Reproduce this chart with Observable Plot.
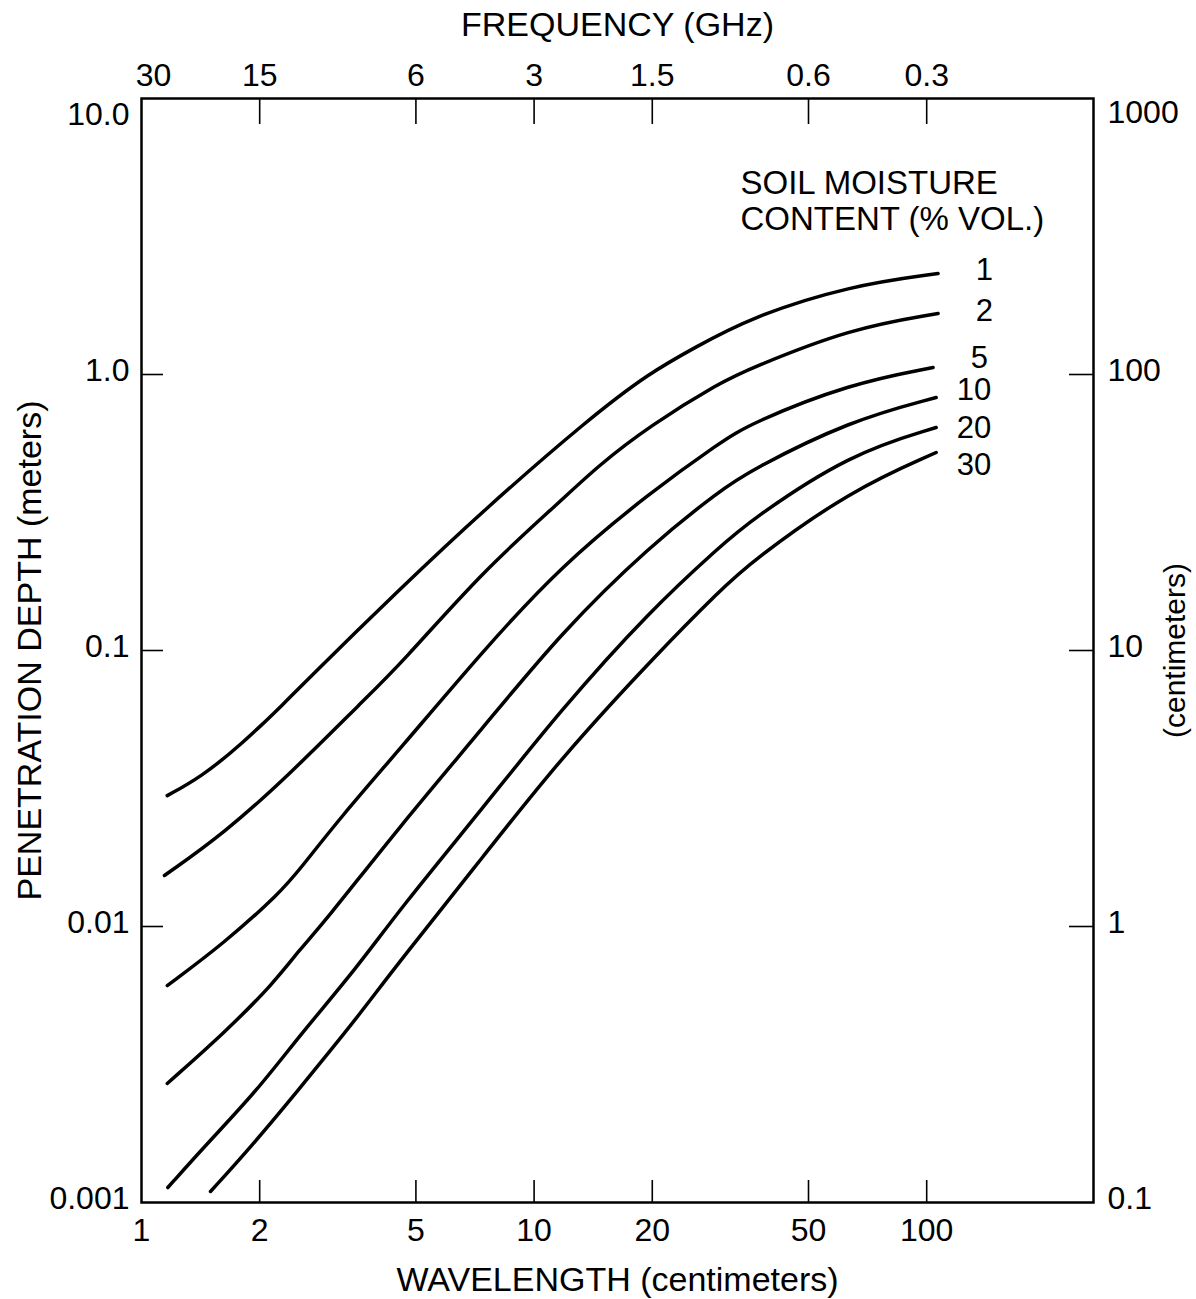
<!DOCTYPE html>
<html><head><meta charset="utf-8">
<script src="https://cdn.jsdelivr.net/npm/d3@7"></script>
<script src="https://cdn.jsdelivr.net/npm/@observablehq/plot@0.6"></script>
<style>html,body{margin:0;padding:0;background:#fff;} #chart svg{display:block}</style>
</head><body><div id="chart"></div>
<script>
// Soil moisture content (% vol.) of each curve
const moistureLevels = [1, 2, 5, 10, 20, 30];

// Wavelength (cm) and penetration depth (m)
const wavelength1 = [1.163, 1.413, 1.787, 2.349, 2.540, 4.564, 7.424, 13.90, 19.76, 25.42, 35.52, 63.83, 106.9];
const depth1      = [0.0298, 0.0347, 0.0453, 0.0659, 0.0741, 0.1677, 0.3216, 0.6987, 1.017, 1.242, 1.609, 2.101, 2.322];

const wavelength2 = [1.144, 1.620, 2.395, 3.674, 4.564, 7.424, 11.66, 14.48, 19.76, 29.79, 35.52, 63.83, 106.9];
const depth2      = [0.0153, 0.0217, 0.0358, 0.0659, 0.0890, 0.1949, 0.3466, 0.4642, 0.6534, 0.9355, 1.051, 1.468, 1.663];

const wavelength5 = [1.163, 1.620, 2.259, 2.540, 3.211, 4.564, 7.424, 11.66, 19.76, 29.79, 35.52, 63.83, 103.8];
const depth5      = [0.00611, 0.00868, 0.01328, 0.01622, 0.02483, 0.04415, 0.1000, 0.2015, 0.3737, 0.5671, 0.6644, 0.9276, 1.060];

const wavelength10 = [1.163, 1.620, 2.168, 2.540, 2.906, 4.564, 7.424, 11.66, 19.76, 29.79, 35.52, 63.83, 105.7];
const depth10      = [0.00270, 0.00410, 0.00621, 0.00832, 0.01025, 0.02322, 0.05260, 0.1153, 0.2401, 0.3800, 0.4489, 0.6813, 0.8254];

const wavelength20 = [1.167, 1.470, 1.971, 2.540, 3.541, 4.564, 7.424, 11.66, 19.76, 29.79, 35.52, 63.83, 105.7];
const depth20      = [0.001133, 0.001636, 0.002546, 0.004062, 0.007102, 0.01162, 0.02699, 0.06064, 0.1396, 0.2382, 0.2958, 0.5173, 0.6426];

const wavelength30 = [1.499, 1.895, 2.540, 3.028, 3.541, 4.564, 7.424, 11.66, 20.96, 29.79, 35.52, 63.83, 105.7];
const depth30      = [0.001096, 0.001582, 0.002610, 0.003554, 0.004681, 0.007528, 0.01793, 0.04062, 0.1000, 0.1650, 0.2084, 0.3800, 0.5217];

// Depth (m) at which each curve's label sits
const labelDepth = [2.38, 1.70, 1.15, 0.875, 0.637, 0.468];

// Axis ticks and labels
const wavelengthTicks  = [1, 2, 5, 10, 20, 50, 100];
const wavelengthLabels = ["1", "2", "5", "10", "20", "50", "100"];
const frequencyValues  = [30, 15, 6, 3, 1.5, 0.6, 0.3];       // GHz
const frequencyLabels  = ["30", "15", "6", "3", "1.5", "0.6", "0.3"];
const depthTicks  = [0.001, 0.01, 0.1, 1, 10];                 // meters
const depthLabels = ["0.001", "0.01", "0.1", "1.0", "10.0"];
const cmLabels    = ["0.1", "1", "10", "100", "1000"];          // centimeters

const wavelengthSets = [wavelength1, wavelength2, wavelength5, wavelength10, wavelength20, wavelength30];
const depthSets = [depth1, depth2, depth5, depth10, depth20, depth30];
const rows = moistureLevels.flatMap((m, i) =>
  wavelengthSets[i].map((w, j) => ({moisture: m, wavelength: w, depth: depthSets[i][j]})));
const curveEnds = wavelengthSets.map(a => a[a.length - 1]);

const freqPos = frequencyValues.map(f => 30 / f);
const fmtWl = d => wavelengthLabels[wavelengthTicks.indexOf(d)];
const fmtFreq = d => frequencyLabels[freqPos.indexOf(d)];
const fmtDepth = d => depthLabels[depthTicks.indexOf(d)];
const fmtCm = d => cmLabels[depthTicks.indexOf(d)];

const FS = 32, TFS = 34;

const chart = Plot.plot({
  width: 1196,
  height: 1299,
  marginTop: 98,
  marginBottom: 97,
  marginLeft: 141,
  marginRight: 103,
  style: {fontFamily: "'Liberation Sans', Arial, Helvetica, sans-serif", color: "black", background: "white"},
  x: {type: "log", domain: [1, 266], axis: null},
  y: {type: "log", domain: [0.001, 10], axis: null},
  marks: [
    Plot.frame({stroke: "black", strokeWidth: 2.5}),
    // bottom axis (wavelength)
    Plot.axisX({ticks: wavelengthTicks.slice(1), anchor: "bottom", tickSize: -22, fill: "none", strokeWidth: 1.6, label: null}),
    Plot.axisX({ticks: wavelengthTicks, anchor: "bottom", tickSize: 0, tickPadding: 16, tickFormat: fmtWl, fontSize: FS, label: null}),
    // top axis (frequency)
    Plot.axisX({ticks: freqPos.slice(1), anchor: "top", tickSize: -25, fill: "none", strokeWidth: 1.6, label: null}),
    Plot.axisX({ticks: freqPos.slice(0, 1), anchor: "top", tickSize: 0, tickPadding: 13, dx: 12, tickFormat: fmtFreq, fontSize: FS, label: null}),
    Plot.axisX({ticks: freqPos.slice(1), anchor: "top", tickSize: 0, tickPadding: 13, tickFormat: fmtFreq, fontSize: FS, label: null}),
    // left axis (meters)
    Plot.axisY({ticks: depthTicks.slice(1, 4), anchor: "left", tickSize: -22, fill: "none", strokeWidth: 1.6, label: null}),
    Plot.axisY({ticks: depthTicks.slice(0, 4), anchor: "left", tickSize: 0, tickPadding: 12, dy: -4, tickFormat: fmtDepth, fontSize: FS, label: null}),
    Plot.axisY({ticks: depthTicks.slice(4), anchor: "left", tickSize: 0, tickPadding: 12, dy: 16, tickFormat: fmtDepth, fontSize: FS, label: null}),
    // right axis (centimeters)
    Plot.axisY({ticks: depthTicks.slice(1, 4), anchor: "right", tickSize: -25, fill: "none", strokeWidth: 1.6, label: null}),
    Plot.axisY({ticks: depthTicks.slice(0, 4), anchor: "right", tickSize: 0, tickPadding: 14, dy: -4, tickFormat: fmtCm, fontSize: FS, label: null}),
    Plot.axisY({ticks: depthTicks.slice(4), anchor: "right", tickSize: 0, tickPadding: 14, dy: 14, tickFormat: fmtCm, fontSize: FS, label: null}),
    // titles
    Plot.text(["FREQUENCY (GHz)"], {frameAnchor: "top", dy: -73, textAnchor: "middle", lineAnchor: "middle", fontSize: TFS}),
    Plot.text(["WAVELENGTH (centimeters)"], {frameAnchor: "bottom", dy: 78, textAnchor: "middle", lineAnchor: "middle", fontSize: TFS}),
    Plot.text(["PENETRATION DEPTH (meters)"], {frameAnchor: "left", dx: -111, rotate: -90, textAnchor: "middle", lineAnchor: "middle", fontSize: TFS}),
    Plot.text(["(centimeters)"], {frameAnchor: "right", dx: 82, rotate: -90, textAnchor: "middle", lineAnchor: "middle", fontSize: 30}),
    Plot.text(["SOIL MOISTURE\nCONTENT (% VOL.)"], {frameAnchor: "top-left", dx: 599, dy: 102, textAnchor: "start", lineAnchor: "middle", lineHeight: 1.08, fontSize: 33}),
    // curves
    Plot.line(rows, {x: "wavelength", y: "depth", z: "moisture", stroke: "black", strokeWidth: 3.5, curve: "basis", strokeLinecap: "round"}),
    Plot.text(moistureLevels, {x: (m, i) => curveEnds[i], y: (m, i) => labelDepth[i], text: d => String(d), dx: 55, textAnchor: "end", lineAnchor: "middle", fontSize: 31})
  ]
});
document.getElementById("chart").appendChild(chart);
</script>
</body></html>
